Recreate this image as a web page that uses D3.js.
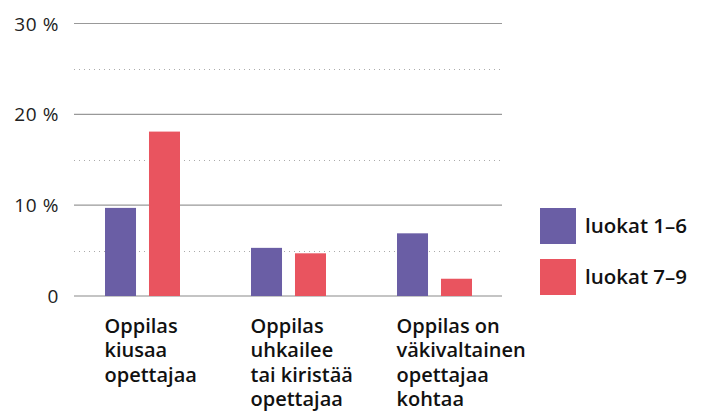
<!DOCTYPE html>
<html>
<head>
<meta charset="utf-8">
<script src="https://cdn.jsdelivr.net/npm/d3@7"></script>
<style>
  body { margin: 0; background: #fff; }
  text { font-family: "Open Sans", "Noto Sans", sans-serif; }
</style>
</head>
<body>
<div id="chart"></div>
<script>
// data
const categories = [
    ["Oppilas", "kiusaa", "opettajaa"],
    ["Oppilas", "uhkailee", "tai kiristää", "opettajaa"],
    ["Oppilas on", "väkivaltainen", "opettajaa", "kohtaa"]
];
const seriesNames = ["luokat 1–6", "luokat 7–9"];
const grades16 = [9.7, 5.3, 6.9];
const grades79 = [18.1, 4.7, 1.9];
const majorTicks = [0, 10, 20, 30];
const minorTicks = [5, 15, 25];

const width = 706, height = 411;
const colors = ["#6a5ea5", "#e9545f"];

const svg = d3.select("#chart").append("svg")
    .attr("width", width)
    .attr("height", height)
    .attr("viewBox", [0, 0, width, height]);

const y = d3.scaleLinear().domain([0, 30]).range([296, 23.5]);
const gridLeft = 74, gridRight = 502;

const x0 = d3.scaleBand().domain(d3.range(categories.length)).range([69.5, 507.5]);
const x1 = d3.scaleBand().domain([0, 1]).range([0, 75]).paddingInner(0.295);

// dotted minor lines
svg.append("g").selectAll("line").data(minorTicks).join("line")
    .attr("x1", gridLeft).attr("x2", gridRight)
    .attr("y1", d => Math.round(y(d)) + 0.5).attr("y2", d => Math.round(y(d)) + 0.5)
    .attr("stroke", "#aaa").attr("stroke-width", 1)
    .attr("stroke-dasharray", "1,4");

// major lines
svg.append("g").selectAll("line").data(majorTicks).join("line")
    .attr("x1", gridLeft).attr("x2", gridRight)
    .attr("y1", d => y(d)).attr("y2", d => y(d))
    .attr("stroke", d => d === 0 ? "#b0b0b0" : "#999")
    .attr("stroke-width", d => d === 0 ? 1.6 : 1.1);

// y labels
svg.append("g").selectAll("text").data(majorTicks).join("text")
    .attr("x", 59)
    .attr("y", d => y(d) + 7)
    .attr("text-anchor", "end")
    .attr("font-family", "Lato, sans-serif")
    .attr("font-size", 19)
    .attr("font-weight", 400)
    .attr("letter-spacing", 0.6)
    .attr("fill", "#222")
    .text(d => d === 0 ? "0" : d + " %");

// bars
const rows = categories.map((c, i) => [grades16[i], grades79[i]]);
const groups = svg.append("g").selectAll("g").data(rows).join("g")
    .attr("transform", (d, i) => `translate(${x0(i) + x0.bandwidth() / 2 - 37.5},0)`);
groups.selectAll("rect").data(d => d).join("rect")
    .attr("x", (d, j) => x1(j))
    .attr("width", x1.bandwidth())
    .attr("y", d => y(d))
    .attr("height", d => y(0) - y(d))
    .attr("fill", (d, j) => colors[j]);

// category labels
svg.append("g").selectAll("text").data(categories).join("text")
    .attr("x", (d, i) => x0(i) + x0.bandwidth() / 2 - 38)
    .attr("y", 333)
    .attr("font-size", 20)
    .attr("font-weight", 600)
    .attr("fill", "#111")
    .selectAll("tspan").data(d => d).join("tspan")
    .attr("x", function () { return this.parentNode.getAttribute("x"); })
    .attr("dy", (d, k) => k === 0 ? 0 : 24.3)
    .text(d => d);

// legend
const legend = svg.append("g").selectAll("g").data(seriesNames).join("g")
    .attr("transform", (d, i) => `translate(540,${208 + i * 51})`);
legend.append("rect")
    .attr("width", 36).attr("height", 36)
    .attr("fill", (d, i) => colors[i]);
legend.append("text")
    .attr("x", 45).attr("y", 25)
    .attr("font-size", 20.5)
    .attr("font-weight", 600)
    .attr("fill", "#111")
    .text(d => d);
</script>
</body>
</html>
